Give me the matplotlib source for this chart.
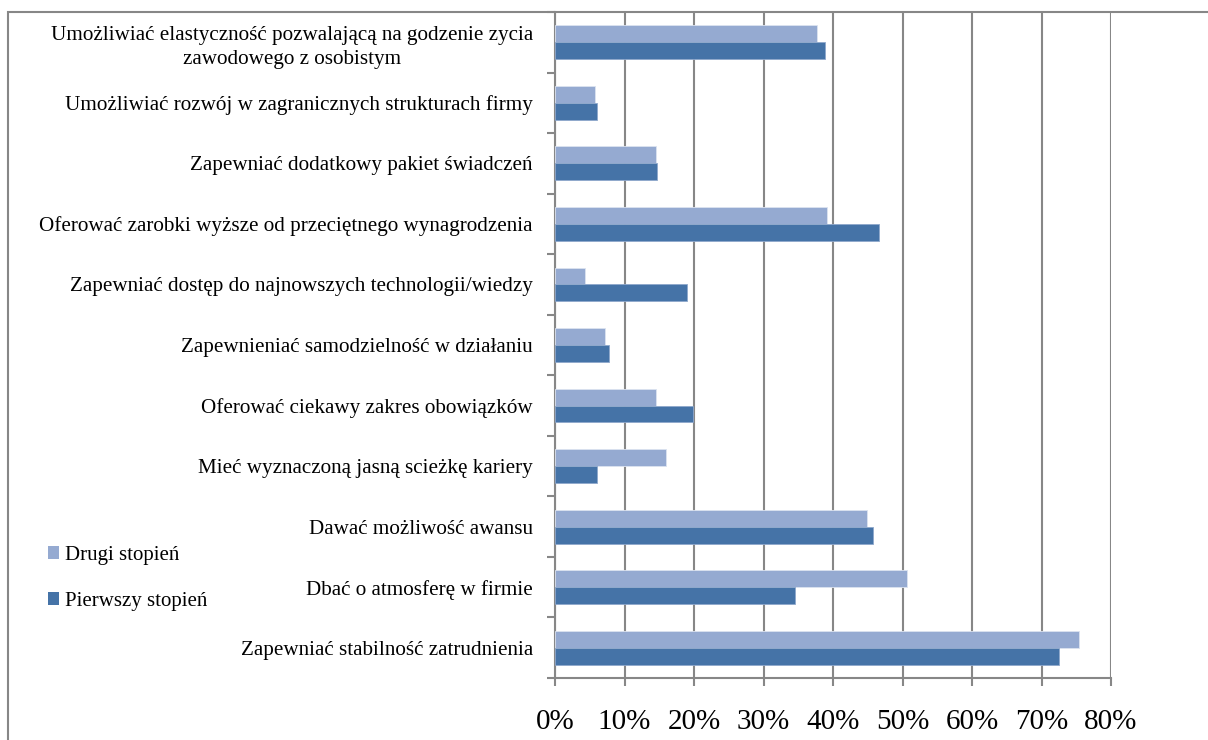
import numpy as np
import matplotlib
matplotlib.use('Agg')
import matplotlib.pyplot as plt
from matplotlib.patches import Rectangle, Patch

plt.rcParams['font.family'] = ['Liberation Serif', 'DejaVu Serif']

# categories listed top to bottom as in the chart
categories = [
    'Umożliwiać elastyczność pozwalającą na godzenie zycia\nzawodowego z osobistym',
    'Umożliwiać rozwój w zagranicznych strukturach firmy',
    'Zapewniać dodatkowy pakiet świadczeń',
    'Oferować zarobki wyższe od przeciętnego wynagrodzenia',
    'Zapewniać dostęp do najnowszych technologii/wiedzy',
    'Zapewnieniać samodzielność w działaniu',
    'Oferować ciekawy zakres obowiązków',
    'Mieć wyznaczoną jasną scieżkę kariery',
    'Dawać możliwość awansu',
    'Dbać o atmosferę w firmie',
    'Zapewniać stabilność zatrudnienia',
]
drugi = [37.7, 5.8, 14.5, 39.1, 4.3, 7.2, 14.5, 15.9, 44.9, 50.7, 75.4]
pierwszy = [38.9, 6.0, 14.7, 46.6, 19.0, 7.8, 19.8, 6.0, 45.7, 34.5, 72.5]
xticks = [0, 10, 20, 30, 40, 50, 60, 70, 80]

c_light = '#95AAD1'
c_dark = '#4573A7'
grid_c = '#878787'

fig = plt.figure(figsize=(12.08, 7.4), dpi=100)
ax = fig.add_axes([555/1208, 1 - 678/740, (1111 - 555)/1208, (678 - 12)/740])

n = len(categories)
y = np.arange(n)[::-1]
h = 0.28
ax.barh(y + h/2, drugi, height=h, color=c_light, edgecolor='#DCE3F0', linewidth=0.6,
        label='Drugi stopień', zorder=3)
ax.barh(y - h/2, pierwszy, height=h, color=c_dark, edgecolor='#8FA8CC', linewidth=0.6,
        label='Pierwszy stopień', zorder=3)

ax.set_xlim(0, 80)
ax.set_ylim(-0.5, n - 0.5)
ax.set_xticks(xticks)
ax.set_xticklabels([f'{v}%' for v in xticks], fontsize=21)
ax.tick_params(axis='x', direction='out', length=6, width=1.5, color=grid_c, pad=16)

ax.set_yticks(y)
ax.set_yticklabels(categories, fontsize=15.2, ha='right', multialignment='center',
                   linespacing=1.4)
ax.tick_params(axis='y', which='major', length=0, pad=16)
ax.set_yticks(np.arange(-0.5, n, 1.0), minor=True)
ax.tick_params(axis='y', which='minor', direction='out', length=6, width=1.5, color=grid_c)

ax.grid(axis='x', color=grid_c, linewidth=1.5, zorder=0)
ax.set_axisbelow(True)
for s in ['top', 'right']:
    ax.spines[s].set_visible(False)
for s in ['left', 'bottom']:
    ax.spines[s].set_color(grid_c)
    ax.spines[s].set_linewidth(1.5)

# outer chart frame
frame = Rectangle((8/1208, -0.1), 1.2, 1.1 - 12/740, transform=fig.transFigure,
                  fill=False, edgecolor=grid_c, linewidth=1.5, zorder=10)
fig.patches.append(frame)

handles = [Patch(facecolor=c_light, label='Drugi stopień'),
           Patch(facecolor=c_dark, label='Pierwszy stopień')]
fig.legend(handles=handles, loc='upper left', bbox_to_anchor=(29/1208, 1 - 527/740),
           frameon=False, fontsize=15, handlelength=0.55, handleheight=0.55,
           handletextpad=0.3, labelspacing=1.3)

fig.savefig('out.png', dpi=100)
